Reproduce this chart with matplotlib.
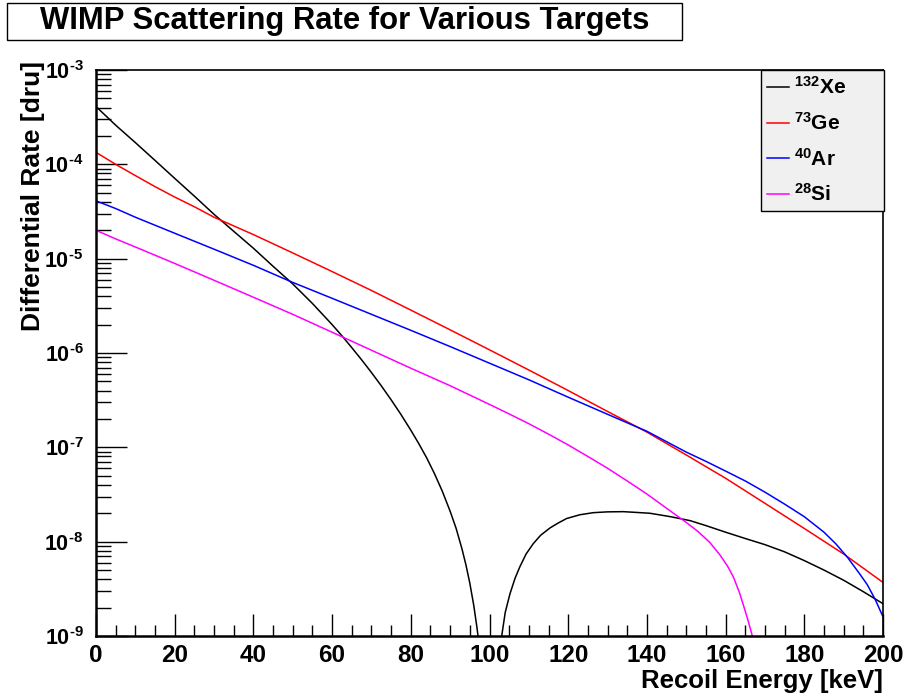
import numpy as np
import matplotlib
matplotlib.use("Agg")
import matplotlib.pyplot as plt
from matplotlib.patches import Rectangle
from matplotlib.ticker import MultipleLocator, LogLocator, FuncFormatter, NullFormatter

plt.rcParams['font.family'] = ['Liberation Sans', 'DejaVu Sans']
plt.rcParams['font.weight'] = 'bold'
plt.rcParams['mathtext.fontset'] = 'custom'
plt.rcParams['mathtext.rm'] = 'Liberation Sans:bold'
plt.rcParams['mathtext.bf'] = 'Liberation Sans:bold'
plt.rcParams['mathtext.default'] = 'bf'

# --- data (recoil energy in keV, rate in dru) ---
# Xe has a form factor zero near 100 keV, so it comes in two pieces
xe_E1 = [0, 5, 10, 15, 20, 25, 30, 35, 40, 45, 50, 55, 60, 62.5, 65, 67.5,
         70, 72.5, 75, 77.5, 80, 82, 84, 86, 88, 90, 91.5, 93, 94, 95, 96,
         96.8, 97.4]
xe_R1 = [4.1e-4, 2.6e-4, 1.7e-4, 1.1e-4, 7.1e-5, 4.6e-5, 2.95e-5, 1.95e-5,
         1.29e-5, 8.3e-6, 5.4e-6, 3.35e-6, 2.0e-6, 1.52e-6, 1.14e-6, 8.47e-7,
         6.21e-7, 4.49e-7, 3.19e-7, 2.23e-7, 1.52e-7, 1.10e-7, 7.78e-8,
         5.28e-8, 3.43e-8, 2.10e-8, 1.39e-8, 8.4e-9, 5.7e-9, 3.63e-9,
         2.11e-9, 1.24e-9, 7.9e-10]
xe_E2 = [102.7, 103.1, 104, 105.2, 106.5, 107.7, 109.3, 111.1, 113, 115.4,
         117.5, 119.6, 123, 126.4, 130, 134, 137.5, 140.8, 146, 151, 155,
         160, 165, 170, 175, 180, 185, 190, 195, 200]
xe_R2 = [7.9e-10, 1.0e-9, 1.78e-9, 2.8e-9, 4.1e-9, 5.4e-9, 7.4e-9, 9.5e-9,
         1.17e-8, 1.40e-8, 1.58e-8, 1.76e-8, 1.93e-8, 2.03e-8, 2.07e-8,
         2.08e-8, 2.04e-8, 2.0e-8, 1.84e-8, 1.67e-8, 1.48e-8, 1.26e-8,
         1.08e-8, 9.3e-9, 7.8e-9, 6.3e-9, 5.0e-9, 3.9e-9, 2.95e-9, 2.2e-9]

ge_E = [0, 5, 10, 15, 20, 25, 30, 40, 50, 60, 70, 80, 90, 100, 110, 120,
        130, 140, 150, 160, 170, 180, 190, 200]
ge_R = [1.34e-4, 1.0e-4, 7.6e-5, 5.8e-5, 4.5e-5, 3.55e-5, 2.75e-5, 1.8e-5,
        1.15e-5, 7.3e-6, 4.6e-6, 2.85e-6, 1.76e-6, 1.08e-6, 6.6e-7, 4.0e-7,
        2.4e-7, 1.45e-7, 8.3e-8, 4.7e-8, 2.55e-8, 1.38e-8, 7.4e-9, 3.7e-9]

ar_E = [0, 5, 10, 20, 30, 40, 50, 60, 70, 80, 90, 100, 110, 120, 130, 140,
        150, 155, 160, 165, 170, 175, 180, 185, 188, 191, 194, 196, 198, 200]
ar_R = [4.1e-5, 3.4e-5, 2.75e-5, 1.86e-5, 1.26e-5, 8.5e-6, 5.6e-6, 3.8e-6,
        2.57e-6, 1.74e-6, 1.17e-6, 7.8e-7, 5.2e-7, 3.4e-7, 2.24e-7, 1.48e-7,
        8.9e-8, 7.1e-8, 5.6e-8, 4.4e-8, 3.35e-8, 2.5e-8, 1.84e-8, 1.26e-8,
        9.5e-9, 6.8e-9, 4.6e-9, 3.5e-9, 2.45e-9, 1.6e-9]

si_E = [0, 5, 10, 20, 30, 40, 50, 60, 70, 80, 90, 100, 105, 110, 115, 120,
        125, 130, 135, 140, 145, 150, 153, 156, 158.6, 160.5, 162, 163.5,
        164.5, 165.6, 166.6, 167.2]
si_R = [2.0e-5, 1.62e-5, 1.33e-5, 8.9e-6, 5.9e-6, 3.9e-6, 2.57e-6, 1.66e-6,
        1.07e-6, 6.9e-7, 4.5e-7, 2.85e-7, 2.26e-7, 1.78e-7, 1.38e-7, 1.06e-7,
        8.0e-8, 6.0e-8, 4.4e-8, 3.2e-8, 2.26e-8, 1.6e-8, 1.28e-8, 9.8e-9,
        7.2e-9, 5.5e-9, 4.2e-9, 2.9e-9, 2.14e-9, 1.51e-9, 1.07e-9, 8.5e-10]

labels = [r'$^{132}$Xe', r'$^{73}$Ge', r'$^{40}$Ar', r'$^{28}$Si']
colors = ['black', '#ff0000', '#0000ff', '#ff00ff']

fig = plt.figure(figsize=(9.09, 6.98), dpi=100)
ax = fig.add_axes([96/909, 1-636/698, 787/909, 566/698])

lw = 1.1
l1, = ax.plot(xe_E1, xe_R1, color=colors[0], lw=lw)
ax.plot(xe_E2, xe_R2, color=colors[0], lw=lw)
l2, = ax.plot(ge_E, ge_R, color=colors[1], lw=lw)
l3, = ax.plot(ar_E, ar_R, color=colors[2], lw=lw)
l4, = ax.plot(si_E, si_R, color=colors[3], lw=lw)

ax.set_yscale('log')
ax.set_xlim(0, 200)
ax.set_ylim(1e-9, 1e-3)

ax.xaxis.set_major_locator(MultipleLocator(20))
ax.xaxis.set_minor_locator(MultipleLocator(5))
ax.yaxis.set_major_locator(LogLocator(base=10, numticks=20))
ax.yaxis.set_minor_locator(LogLocator(base=10, subs=np.arange(2, 10), numticks=20))
# ROOT writes a short hyphen in the exponent
ax.yaxis.set_major_formatter(FuncFormatter(
    lambda v, p: r'$10^{\text{-%d}}$' % abs(round(np.log10(v)))))
ax.yaxis.set_minor_formatter(NullFormatter())

ax.tick_params(axis='both', which='both', direction='in', top=False, right=False, width=1)
ax.tick_params(axis='x', which='major', length=16, labelsize=17.5, pad=6)
ax.tick_params(axis='x', which='minor', length=8)
ax.tick_params(axis='y', which='major', length=22, labelsize=15.5, pad=9)
ax.tick_params(axis='y', which='minor', length=11)

for s in ['left', 'bottom']:
    ax.spines[s].set_linewidth(1.8)
for s in ['top', 'right']:
    ax.spines[s].set_linewidth(1.2)

# axis titles, ROOT style: pushed to the ends of the axes
fig.text(883/909, 1-688/698, 'Recoil Energy [keV]', ha='right', va='baseline',
         fontsize=18.5, fontweight='bold')
fig.text(40/909, 1-61/698, 'Differential Rate [dru]', rotation=90, rotation_mode='anchor',
         ha='right', va='baseline', fontsize=19, fontweight='bold')

leg = ax.legend([l1, l2, l3, l4], labels, loc='upper left',
                bbox_to_anchor=(665/787, 0.0, 123/787, 1.0), mode='expand',
                fancybox=False, framealpha=1, facecolor='#f0f0f0', edgecolor='black',
                prop={'size': 15, 'weight': 'bold'}, handlelength=1.05, handletextpad=0.25,
                labelspacing=0.66, borderpad=0.3, borderaxespad=0)
leg.get_frame().set_linewidth(1)

# title box
fig.patches.append(Rectangle((7/909, 1-40/698), 675/909, 37/698, transform=fig.transFigure,
                             facecolor='white', edgecolor='black', lw=1))
fig.text(345/909, 1-21/698, 'WIMP Scattering Rate for Various Targets',
         ha='center', va='center', fontsize=22.3, fontweight='bold')

fig.savefig('out.png', dpi=100)
